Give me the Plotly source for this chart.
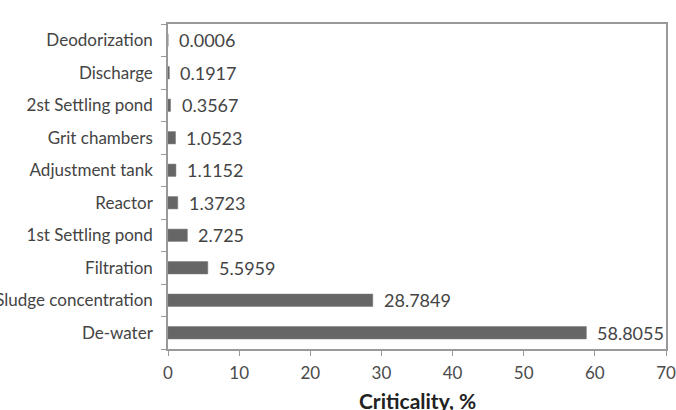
import plotly.graph_objects as go

categories = ["De-water", "Sludge concentration", "Filtration", "1st Settling pond",
              "Reactor", "Adjustment tank", "Grit chambers", "2st Settling pond",
              "Discharge", "Deodorization"]
values = [58.8055, 28.7849, 5.5959, 2.725, 1.3723, 1.1152, 1.0523, 0.3567, 0.1917, 0.0006]
labels = ["58.8055", "28.7849", "5.5959", "2.725", "1.3723", "1.1152", "1.0523",
          "0.3567", "0.1917", "0.0006"]
x_ticks = [0, 10, 20, 30, 40, 50, 60, 70]
x_title = "<b>Criticality, %</b>"

FONT = "Lato"
fig = go.Figure()
fig.add_trace(go.Bar(
    y=categories, x=values, orientation="h",
    marker=dict(color="#666666", line=dict(color="#777777", width=0.5)),
    width=0.38, showlegend=False,
))
for c, v, t in zip(categories, values, labels):
    fig.add_annotation(x=v, y=c, text=t, showarrow=False, xanchor="left",
                       xshift=9, font=dict(family=FONT, size=18, color="#444444"))

fig.add_annotation(xref="paper", yref="paper", x=0.5, y=0, text=x_title,
                   showarrow=False, xanchor="center", yanchor="middle", yshift=-51,
                   font=dict(family=FONT, size=21, color="#222222"))

fig.update_layout(
    width=676, height=410,
    margin=dict(l=168, r=10, t=24, b=61),
    paper_bgcolor="white", plot_bgcolor="white",
    font=dict(family=FONT, size=17, color="#444444"),
    xaxis=dict(range=[0, 70], tickvals=x_ticks, showgrid=False, zeroline=False,
               automargin=False,
               showline=True, linecolor="#999999", linewidth=1.5, mirror=True,
               ticks="outside", ticklen=5, tickcolor="#999999",
               ticklabelstandoff=3,
               tickfont=dict(family=FONT, size=17, color="#4a4a4a")),
    yaxis=dict(type="category", categoryorder="array", categoryarray=categories,
               range=[-0.5, 9.5], showgrid=False, zeroline=False, automargin=False,
               showline=True, linecolor="#999999", linewidth=1.5, mirror=True,
               ticks="outside", ticklen=5, tickcolor="#999999", tickson="boundaries",
               ticklabelstandoff=10,
               tickfont=dict(family=FONT, size=17, color="#444444")),
)
fig.write_html("out.html")
